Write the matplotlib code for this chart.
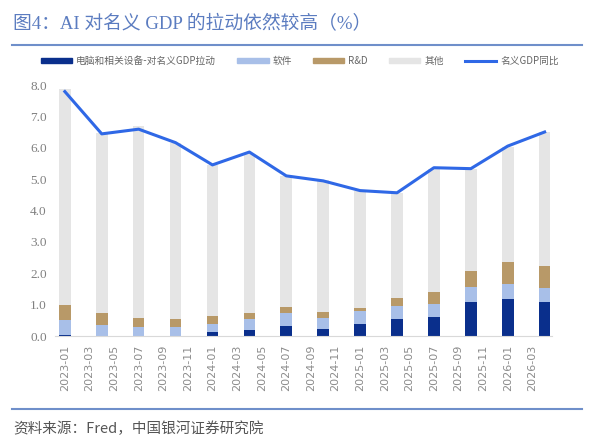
import numpy as np
import matplotlib
matplotlib.use('Agg')
import matplotlib.pyplot as plt
from matplotlib.patches import Patch
from matplotlib.lines import Line2D

plt.rcParams['font.family'] = ['Noto Sans CJK SC', 'DejaVu Sans']

# 季度数据（月份序号：2023-01 = 0）
months = np.arange(0, 40, 3)
computer = [0.02, 0.01, 0.0, 0.0, 0.14, 0.20, 0.32, 0.21, 0.39, 0.55, 0.61, 1.09, 1.17, 1.07]
software = [0.48, 0.33, 0.28, 0.30, 0.23, 0.35, 0.41, 0.36, 0.40, 0.40, 0.41, 0.47, 0.49, 0.45]
rnd = [0.50, 0.40, 0.30, 0.25, 0.26, 0.17, 0.21, 0.19, 0.10, 0.26, 0.37, 0.53, 0.69, 0.71]
total = [7.88, 6.47, 6.71, 6.17, 5.46, 5.80, 5.11, 4.98, 4.64, 4.57, 5.32, 5.32, 6.04, 6.52]
gdp_yoy = [7.80, 6.45, 6.60, 6.17, 5.46, 5.87, 5.11, 4.95, 4.64, 4.57, 5.37, 5.34, 6.06, 6.51]

tick_pos = np.arange(0, 39, 2)
tick_labels = ['%d-%02d' % (2023 + m // 12, m % 12 + 1) for m in tick_pos]

c_comp = '#0a2f8c'
c_soft = '#a8bfe8'
c_rnd = '#b89968'
c_other = '#e5e5e5'
c_line = '#2f68e6'
c_title = '#5b7cc0'

computer = np.array(computer)
software = np.array(software)
rnd = np.array(rnd)
other = np.array(total) - computer - software - rnd

fig = plt.figure(figsize=(6, 4.36), dpi=100)
ax = fig.add_axes([55 / 600, 1 - 336 / 436, (552 - 55) / 600, (336 - 85.3) / 436])

w = 0.95
ax.bar(months, computer, w, color=c_comp, zorder=2)
ax.bar(months, software, w, bottom=computer, color=c_soft, zorder=2)
ax.bar(months, rnd, w, bottom=computer + software, color=c_rnd, zorder=2)
ax.bar(months, other, w, bottom=computer + software + rnd, color=c_other, zorder=2)
ax.plot(months, gdp_yoy, color=c_line, lw=2.2, zorder=3)

ax.set_xlim(-0.8, 39.6)
ax.set_ylim(0, 8)
ax.set_yticks(np.arange(0, 9, 1))
ax.set_yticklabels(['%.1f' % v for v in np.arange(0, 9, 1)],
                   family=['Liberation Serif', 'DejaVu Serif'], fontsize=9.5, color='#808080')
ax.set_xticks(tick_pos)
ax.set_xticklabels(tick_labels, rotation=90, fontsize=8, color='#8c8c8c', family=['DejaVu Sans'])
ax.tick_params(axis='both', length=0, pad=6)
for s in ['top', 'right', 'left']:
    ax.spines[s].set_visible(False)
ax.spines['bottom'].set_color('#d9d9d9')

# 图例
handles = [Patch(color=c_comp), Patch(color=c_soft), Patch(color=c_rnd), Patch(color=c_other),
           Line2D([], [], color=c_line, lw=2.2)]
labels = ['电脑和相关设备-对名义GDP拉动', '软件', 'R&D', '其他', '名义GDP同比']
fig.legend(handles, labels, loc='center', bbox_to_anchor=(0.5, 1 - 61 / 436), ncol=5,
           frameon=False, fontsize=7, handlelength=3.2, handleheight=0.55,
           columnspacing=2.2, handletextpad=0.4, labelcolor='#666666')

# 标题与来源
fig.text(13 / 600, 1 - 24 / 436, '图4：AI 对名义 GDP 的拉动依然较高（%）',
         family=['Liberation Serif', 'Noto Sans CJK SC'], fontsize=13.5, color=c_title, va='center')
fig.add_artist(Line2D([12 / 600, 582 / 600], [1 - 44.6 / 436] * 2, color='#6f8fca', lw=1.5))
fig.add_artist(Line2D([12 / 600, 582 / 600], [1 - 408.7 / 436] * 2, color='#6f8fca', lw=1.5))
fig.text(13 / 600, 1 - 429 / 436, '资料来源：Fred，中国银河证券研究院',
         family=['Noto Sans CJK SC'], fontsize=10.5, color='#555555', va='center', style='italic')

fig.savefig('out.png', dpi=100)
